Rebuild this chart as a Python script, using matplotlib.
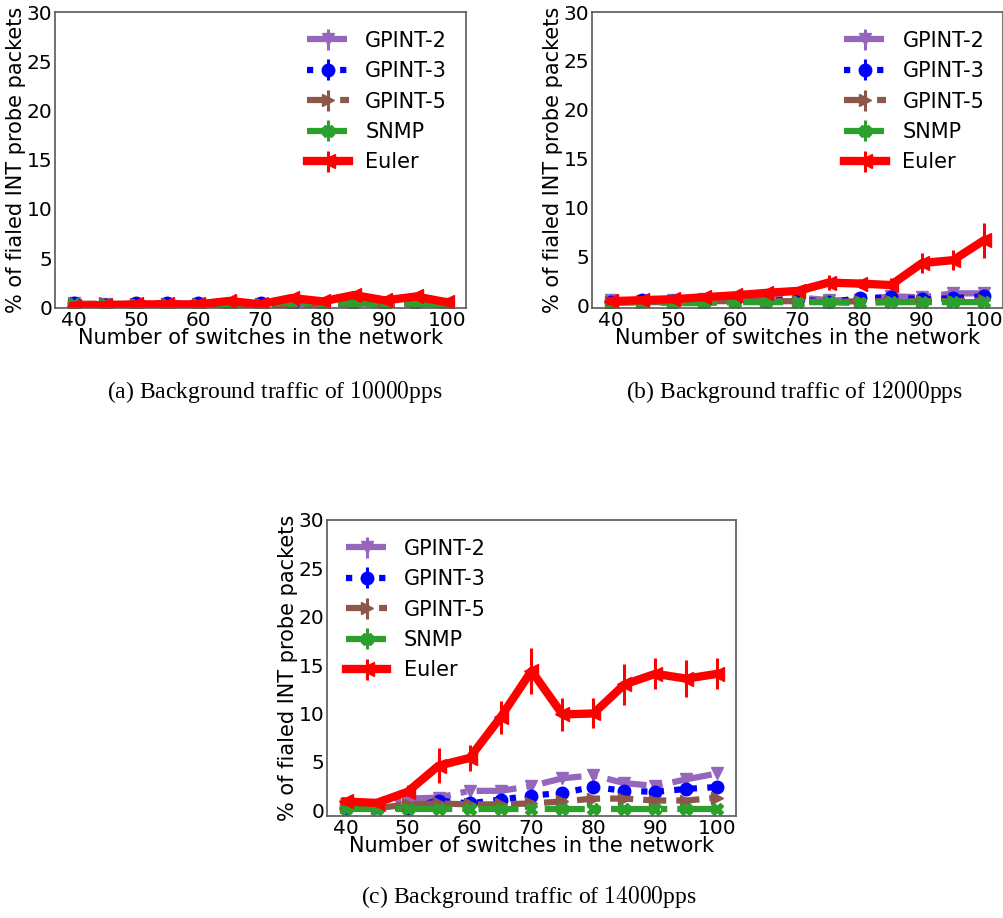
import matplotlib
matplotlib.use("Agg")
import matplotlib.pyplot as plt
import numpy as np

# Network sizes (number of switches)
switches = [40, 45, 50, 55, 60, 65, 70, 75, 80, 85, 90, 95, 100]

# Background traffic of 10000 pps
a_gpint2 = [0.4, 0.3, 0.3, 0.3, 0.3, 0.2, 0.3, 0.3, 0.3, 0.4, 0.3, 0.4, 0.3]
a_gpint3 = [0.4, 0.2, 0.4, 0.4, 0.4, 0.2, 0.4, 0.2, 0.2, 0.5, 0.2, 0.5, 0.2]
a_gpint5 = [0.3, 0.4, 0.3, 0.3, 0.3, 0.2, 0.3, 0.2, 0.3, 0.3, 0.3, 0.3, 0.3]
a_snmp = [0.3, 0.2, 0.2, 0.2, 0.2, 0.2, 0.2, 0.6, 0.2, 0.5, 0.2, 0.5, 0.1]
a_euler = [0.15, 0.2, 0.3, 0.3, 0.3, 0.65, 0.3, 0.95, 0.6, 1.25, 0.7, 1.1, 0.5]
a_euler_err = [0.1, 0.1, 0.1, 0.1, 0.1, 0.15, 0.1, 0.2, 0.15, 0.25, 0.15, 0.2, 0.15]

# Background traffic of 12000 pps
b_gpint2 = [0.5, 0.4, 0.5, 0.6, 0.5, 0.6, 0.8, 0.5, 0.5, 0.9, 0.8, 1.2, 1.2]
b_gpint3 = [0.3, 0.5, 0.4, 0.4, 0.5, 0.4, 0.6, 0.3, 0.7, 0.8, 0.6, 0.7, 0.9]
b_gpint5 = [0.3, 0.3, 0.3, 0.4, 0.4, 0.4, 0.4, 0.3, 0.4, 0.4, 0.4, 0.4, 0.5]
b_snmp = [0.2, 0.3, 0.2, 0.2, 0.3, 0.3, 0.3, 0.3, 0.2, 0.3, 0.3, 0.3, 0.3]
b_euler = [0.4, 0.5, 0.6, 0.8, 1.0, 1.25, 1.45, 2.3, 2.2, 2.05, 4.3, 4.6, 6.65]
b_euler_err = [0.2, 0.2, 0.2, 0.3, 0.3, 0.3, 0.4, 0.75, 0.5, 0.7, 1.0, 1.0, 1.8]

# Background traffic of 14000 pps
c_gpint2 = [0.6, 0.5, 1.2, 1.3, 2.0, 2.0, 2.5, 3.3, 3.6, 2.8, 2.5, 3.2, 3.8]
c_gpint3 = [0.2, 0.3, 0.2, 1.0, 0.7, 1.1, 1.5, 1.8, 2.4, 2.0, 1.9, 2.2, 2.4]
c_gpint5 = [0.3, 0.2, 0.6, 0.7, 0.6, 0.6, 0.7, 0.9, 1.2, 1.2, 1.0, 1.0, 1.3]
c_snmp = [0.1, 0.1, 0.1, 0.1, 0.1, 0.1, 0.1, 0.1, 0.1, 0.1, 0.1, 0.1, 0.1]
c_euler = [0.9, 0.75, 1.9, 4.6, 5.4, 9.6, 14.4, 9.9, 10.0, 13.0, 14.1, 13.6, 14.1]
c_euler_err = [0.3, 0.3, 0.7, 1.8, 1.3, 1.7, 2.4, 1.7, 1.55, 2.1, 1.6, 1.9, 1.6]

series_labels = ["GPINT-2", "GPINT-3", "GPINT-5", "SNMP", "Euler"]
x_ticks = [40, 50, 60, 70, 80, 90, 100]
y_ticks = [0, 5, 10, 15, 20, 25, 30]
captions = ["(a) Background traffic of $10000$pps",
            "(b) Background traffic of $12000$pps",
            "(c) Background traffic of $14000$pps"]

styles = [
    dict(color="#9467bd", marker="v", ls="-.", lw=4.5, ms=9),
    dict(color="#0000ff", marker="o", ls=":", lw=4.5, ms=9),
    dict(color="#8c564b", marker=">", ls="--", lw=4.5, ms=9),
    dict(color="#2ca02c", marker="X", ls="-.", lw=4.5, ms=9),
    dict(color="#ff0000", marker="<", ls="-", lw=6, ms=10),
]

W, H = 1004, 918
fig = plt.figure(figsize=(W / 100, H / 100), dpi=100)
plt.rcParams["mathtext.fontset"] = "cm"


def px_axes(left, top, width, height):
    return fig.add_axes([left / W, 1 - (top + height) / H, width / W, height / H])


def panel(ax, data, errs, legend_loc, y_bottom):
    for vals, err, st, lab in zip(data, errs, styles, series_labels):
        ax.errorbar(switches, vals, yerr=err, label=lab,
                    color=st["color"], marker=st["marker"], linestyle=st["ls"],
                    linewidth=st["lw"], markersize=st["ms"],
                    elinewidth=2.2, capsize=0)
    ax.set_ylim(y_bottom, 30)
    ax.set_xticks(x_ticks)
    ax.set_yticks(y_ticks)
    ax.tick_params(axis="both", length=0, pad=2, labelsize=14.5)
    for s in ax.spines.values():
        s.set_color("0.35")
        s.set_linewidth(1.2)
    ax.set_xlabel("Number of switches in the network", fontsize=15, labelpad=-1)
    ax.set_ylabel("% of fialed INT probe packets", fontsize=15, labelpad=0)
    ax.legend(loc=legend_loc, frameon=False, fontsize=15, handlelength=2.0)


zeros = [0.1] * len(switches)
ax_a = px_axes(55, 12, 411, 296)
panel(ax_a, [a_gpint2, a_gpint3, a_gpint5, a_snmp, a_euler],
      [zeros, zeros, zeros, zeros, a_euler_err], "upper right", -0.07)

ax_b = px_axes(592, 12, 411, 296)
panel(ax_b, [b_gpint2, b_gpint3, b_gpint5, b_snmp, b_euler],
      [zeros, zeros, zeros, zeros, b_euler_err], "upper right", -0.3)

ax_c = px_axes(327, 520, 409, 296)
c_small = [0.3] * len(switches)
panel(ax_c, [c_gpint2, c_gpint3, c_gpint5, c_snmp, c_euler],
      [c_small, c_small, c_small, zeros, c_euler_err], "upper left", -0.6)

cap_kw = dict(ha="center", va="center", fontsize=17, family="Liberation Serif")
fig.text(275 / W, 1 - 392 / H, captions[0], **cap_kw)
fig.text(795 / W, 1 - 392 / H, captions[1], **cap_kw)
fig.text(529 / W, 1 - 897 / H, captions[2], **cap_kw)

fig.savefig("out.png", dpi=100)
